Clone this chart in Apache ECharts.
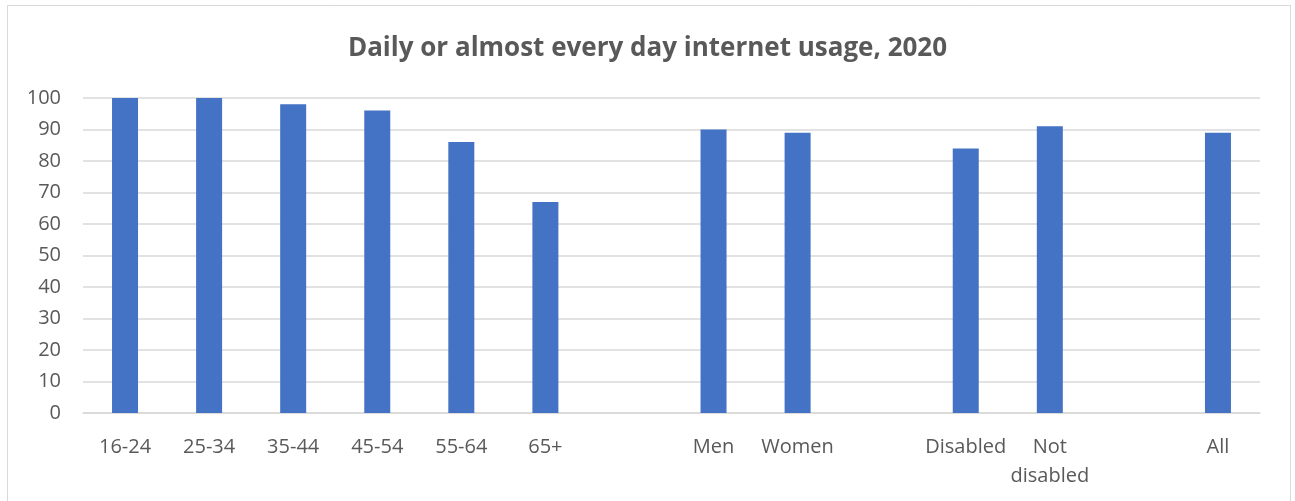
<!DOCTYPE html>
<html>
<head>
<meta charset="utf-8">
<script src="https://cdn.jsdelivr.net/npm/echarts@6/dist/echarts.min.js"></script>
<style>
html,body{margin:0;padding:0;background:#fff;}
#chart{width:1295px;height:501px;}
</style>
</head>
<body>
<div id="chart"></div>
<script>
const titleText = 'Daily or almost every day internet usage, 2020';
const categories = ['16-24','25-34','35-44','45-54','55-64','65+','','Men','Women','','Disabled','Not\ndisabled','','All'];
const values = [100,100,98,96,86,67,null,90,89,null,84,91,null,89];
const yTicks = [0,10,20,30,40,50,60,70,80,90,100];

const chart = echarts.init(document.getElementById('chart'), null, {renderer:'canvas'});
const font = '"Open Sans", "Liberation Sans", sans-serif';
chart.setOption({
  backgroundColor:'#fff',
  animation:false,
  title:{
    text:titleText,
    left:'center',
    top:31,
    textStyle:{fontFamily:font,fontSize:26,fontWeight:'bold',color:'#595959'}
  },
  graphic:[{
    type:'rect',
    shape:{x:7.5,y:5.5,width:1283,height:500},
    style:{fill:'none',stroke:'#d9d9d9',lineWidth:1},
    silent:true
  }],
  grid:{left:83,right:35,top:98,bottom:88,containLabel:false},
  xAxis:{
    type:'category',
    data:categories,
    axisLine:{show:true,lineStyle:{color:'#d9d9d9',width:1.5}},
    axisTick:{show:false},
    axisLabel:{interval:0,fontFamily:font,fontSize:20,color:'#595959',margin:20,lineHeight:29}
  },
  yAxis:{
    type:'value',
    min:yTicks[0],
    max:yTicks[yTicks.length-1],
    interval:10,
    axisLine:{show:false},
    axisTick:{show:false},
    splitLine:{lineStyle:{color:'#d9d9d9',width:1.5}},
    axisLabel:{fontFamily:font,fontSize:20,color:'#595959',margin:22}
  },
  series:[{
    type:'bar',
    data:values,
    barWidth:26,
    itemStyle:{color:'#4472c4'}
  }]
});
</script>
</body>
</html>
